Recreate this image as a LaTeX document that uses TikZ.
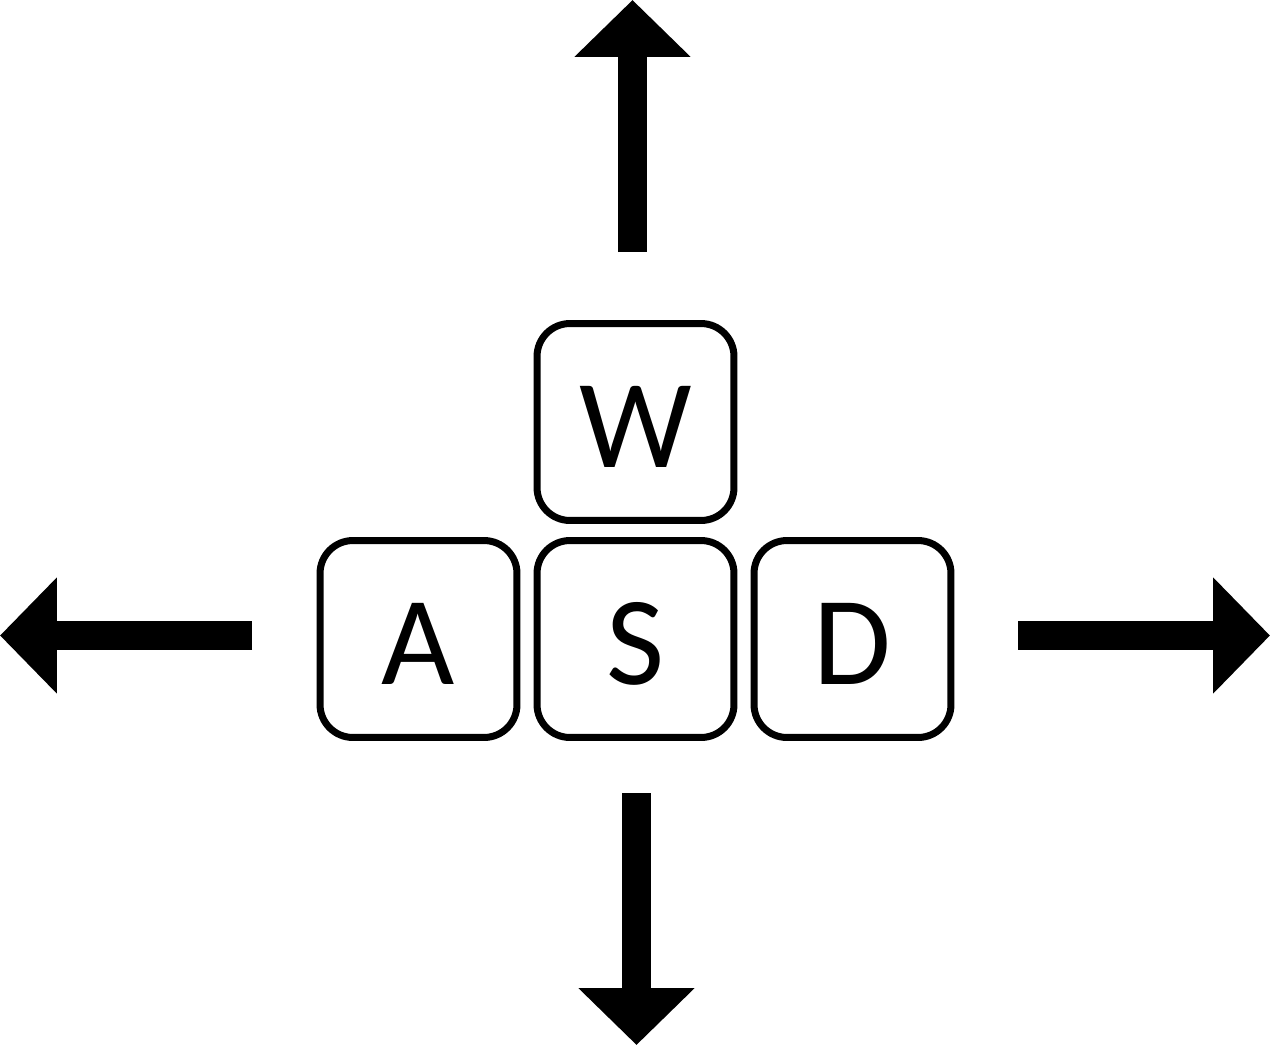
\documentclass[tikz,border=0pt]{standalone}
\usepackage{fontspec}
\setmainfont{Carlito}
\usetikzlibrary{arrows.meta}

\begin{document}
\begin{tikzpicture}[x=0.02cm,y=-0.02cm,key/.style={shape=rectangle,draw=black,line width=0.14cm,rounded corners=0.66cm,minimum size=3.94cm,inner sep=0pt,text height=1.8cm,text depth=0pt,font=\fontsize{72}{72}\selectfont},move/.style={line width=0.58cm,-{Triangle[length=1.14cm,width=2.26cm]}}]
\def\dx{217};
\def\ry{639};

\useasboundingbox (0,0) rectangle (1270,1045);

% keys
\node[key] (W) at (635.5,422) {W};
\node[key] (A) at (635.5-\dx,\ry) {A};
\node[key] (S) at (635.5,\ry) {S};
\node[key] (D) at (635.5+\dx,\ry) {D};

% directions
\coordinate (upA) at (632.5,252);
\coordinate (upB) at (632.5,0);
\coordinate (downA) at (636.5,793);
\coordinate (downB) at (636.5,1045);
\coordinate (leftA) at (252,635.5);
\coordinate (leftB) at (0,635.5);
\coordinate (rightA) at (1018,635.5);
\coordinate (rightB) at (1270,635.5);
\draw[move] (upA) -- (upB);
\draw[move] (downA) -- (downB);
\draw[move] (leftA) -- (leftB);
\draw[move] (rightA) -- (rightB);

\end{tikzpicture}
\end{document}
